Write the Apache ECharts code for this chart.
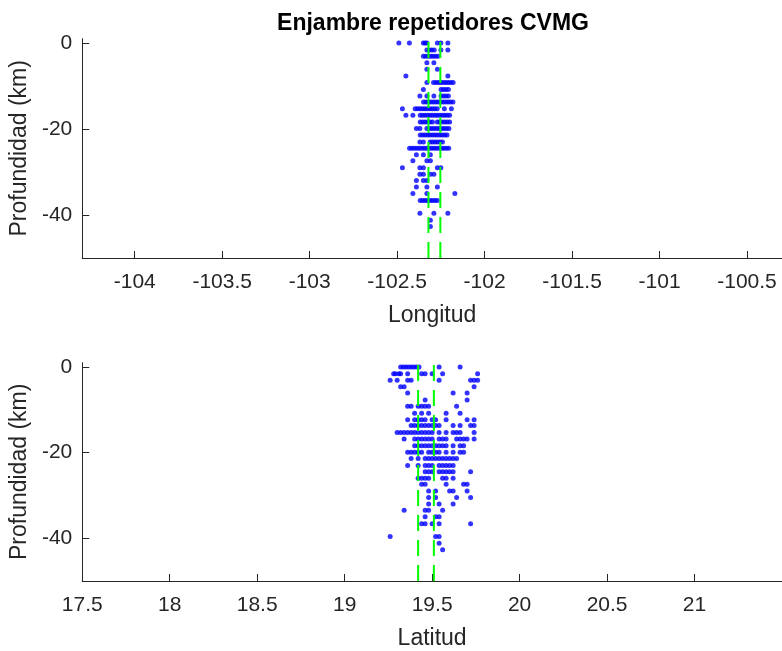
<!DOCTYPE html>
<html>
<head>
<meta charset="utf-8">
<title>Enjambre repetidores CVMG</title>
<script src="https://cdn.jsdelivr.net/npm/echarts@6/dist/echarts.min.js"></script>
<style>
  html, body { margin: 0; padding: 0; background: #fff; }
  #chart { width: 782px; height: 651px; }
</style>
</head>
<body>
<div id="chart"></div>
<script>
// Profundidad (km) de cada fila de eventos
const profundidad = [0, -1.6, -3.1, -4.6, -6.1, -7.7, -9.2, -10.8, -12.3, -13.7,
  -15.3, -16.8, -18.4, -19.9, -21.4, -23.0, -24.5, -26.0, -27.4, -29.0,
  -30.5, -32.0, -33.5, -35.0, -36.6, -39.6, -41.2, -42.7];

// Longitud de los eventos en cada fila de profundidad
const longitudPorFila = [
  [-102.49, -102.43, -102.35, -102.34, -102.33, -102.27, -102.25, -102.21],
  [-102.33, -102.316, -102.302, -102.288, -102.25, -102.21],
  [-102.35, -102.336, -102.322, -102.308, -102.294, -102.28, -102.266],
  [-102.33, -102.29],
  [-102.33, -102.27],
  [-102.45, -102.21],
  [-102.33, -102.292, -102.278, -102.264, -102.25, -102.236, -102.222, -102.208, -102.194, -102.18],
  [-102.35, -102.249, -102.235, -102.221, -102.207],
  [-102.37, -102.33, -102.29, -102.249, -102.235, -102.221, -102.207],
  [-102.349, -102.335, -102.321, -102.307, -102.293, -102.279, -102.265, -102.251, -102.237, -102.223, -102.209, -102.195, -102.181],
  [-102.47, -102.397, -102.383, -102.369, -102.355, -102.341, -102.327, -102.313, -102.299, -102.285, -102.271, -102.23, -102.19],
  [-102.45, -102.41, -102.368, -102.354, -102.34, -102.326, -102.312, -102.298, -102.284, -102.27, -102.256, -102.242, -102.228, -102.214, -102.2],
  [-102.368, -102.354, -102.34, -102.326, -102.312, -102.298, -102.27, -102.256, -102.242, -102.228, -102.214, -102.2],
  [-102.39, -102.37, -102.33, -102.316, -102.302, -102.288, -102.274, -102.26, -102.246, -102.232, -102.218, -102.204],
  [-102.368, -102.354, -102.34, -102.326, -102.312, -102.298, -102.284, -102.27, -102.256, -102.242, -102.228, -102.215],
  [-102.37, -102.35, -102.311, -102.297, -102.283, -102.269, -102.255, -102.241],
  [-102.429, -102.415, -102.401, -102.387, -102.373, -102.359, -102.345, -102.331, -102.317, -102.303, -102.289, -102.275, -102.261, -102.247, -102.233, -102.219, -102.205],
  [-102.39, -102.35, -102.31],
  [-102.41, -102.33, -102.31],
  [-102.47, -102.37, -102.35, -102.27, -102.25],
  [-102.37, -102.35, -102.31, -102.29],
  [-102.39, -102.35, -102.33],
  [-102.39, -102.33, -102.27],
  [-102.41, -102.33, -102.17],
  [-102.368, -102.354, -102.34, -102.326, -102.312, -102.298, -102.284, -102.27],
  [-102.37, -102.29, -102.21],
  [-102.31],
  [-102.31]
];

// Latitud de los eventos en cada fila de profundidad
const latitudPorFila = [
  [19.32, 19.335, 19.35, 19.365, 19.38, 19.395, 19.41, 19.425, 19.54, 19.66],
  [19.28, 19.29, 19.31, 19.32, 19.36, 19.44, 19.46, 19.50, 19.56, 19.76],
  [19.26, 19.30, 19.36, 19.38, 19.54, 19.72, 19.74, 19.76],
  [19.32, 19.34, 19.74],
  [19.36, 19.62, 19.70],
  [19.46, 19.70],
  [19.36, 19.38, 19.42, 19.44, 19.46, 19.48, 19.64],
  [19.40, 19.44, 19.48, 19.58, 19.66],
  [19.36, 19.40, 19.42, 19.44, 19.46, 19.50, 19.52, 19.58, 19.70, 19.74],
  [19.38, 19.40, 19.42, 19.44, 19.46, 19.48, 19.50, 19.52, 19.54, 19.62, 19.66, 19.72, 19.74],
  [19.30, 19.32, 19.34, 19.36, 19.38, 19.40, 19.42, 19.44, 19.46, 19.48, 19.50, 19.54, 19.58, 19.62, 19.64, 19.66, 19.74],
  [19.34, 19.40, 19.42, 19.44, 19.46, 19.48, 19.50, 19.54, 19.56, 19.58, 19.64, 19.66, 19.68, 19.70, 19.74],
  [19.40, 19.42, 19.44, 19.46, 19.48, 19.50, 19.52, 19.54, 19.56, 19.58, 19.62, 19.66, 19.68],
  [19.36, 19.38, 19.40, 19.42, 19.44, 19.48, 19.50, 19.52, 19.54, 19.58, 19.62, 19.66, 19.68],
  [19.38, 19.42, 19.46, 19.48, 19.50, 19.52, 19.54, 19.56, 19.58, 19.60, 19.62, 19.64],
  [19.36, 19.42, 19.46, 19.48, 19.50, 19.54, 19.56, 19.58, 19.60, 19.62],
  [19.46, 19.48, 19.50, 19.54, 19.56, 19.58, 19.60, 19.62, 19.72],
  [19.42, 19.44, 19.46, 19.48, 19.56, 19.58, 19.62],
  [19.44, 19.46, 19.58, 19.68, 19.70],
  [19.48, 19.52, 19.60, 19.62, 19.70],
  [19.48, 19.52, 19.64, 19.72],
  [19.48, 19.54, 19.62],
  [19.34, 19.46, 19.48, 19.56],
  [19.46, 19.52, 19.54],
  [19.44, 19.46, 19.50, 19.54, 19.72],
  [19.26, 19.52, 19.54],
  [19.54],
  [19.56]
];

// Líneas verticales discontinuas que acotan el enjambre
const longitudLimites = [-102.321, -102.253];
const latitudLimites = [19.42, 19.51];

// Rangos de los ejes y marcas
const rangoLongitud = [-104.3, -100.3];
const rangoLatitud = [17.5, 21.5];
const rangoProfundidad = [-50, 1];
const ticksLongitud = [-104, -103.5, -103, -102.5, -102, -101.5, -101, -100.5];
const ticksLatitud = [17.5, 18, 18.5, 19, 19.5, 20, 20.5, 21];
const ticksProfundidad = [-40, -20, 0];

const FONT = '"Liberation Sans", Arial, Helvetica, sans-serif';
const AXIS_COLOR = '#262626';

function puntos(filas) {
  const out = [];
  profundidad.forEach((d, i) => filas[i].forEach(v => out.push([v, d])));
  return out;
}

function ejeX(grid, rango, ticks, nombre) {
  return {
    type: 'value', gridIndex: grid, min: rango[0], max: rango[1],
    name: nombre, nameLocation: 'middle', nameGap: 46,
    nameTextStyle: { fontFamily: FONT, fontSize: 23, color: AXIS_COLOR },
    axisLine: { show: true, onZero: false, lineStyle: { color: AXIS_COLOR, width: 1 } },
    axisTick: { show: true, inside: true, length: 7, customValues: ticks,
      lineStyle: { color: AXIS_COLOR, width: 1 } },
    axisLabel: { customValues: ticks, margin: 14, fontFamily: FONT, fontSize: 21,
      color: AXIS_COLOR, formatter: v => String(v) },
    splitLine: { show: false }
  };
}

function ejeY(grid) {
  return {
    type: 'value', gridIndex: grid, min: rangoProfundidad[0], max: rangoProfundidad[1],
    name: 'Profundidad (km)', nameLocation: 'middle', nameGap: 46, nameRotate: 90,
    nameTextStyle: { fontFamily: FONT, fontSize: 23, color: AXIS_COLOR },
    axisLine: { show: true, onZero: false, lineStyle: { color: AXIS_COLOR, width: 1 } },
    axisTick: { show: true, inside: true, length: 7, customValues: ticksProfundidad,
      lineStyle: { color: AXIS_COLOR, width: 1 } },
    axisLabel: { customValues: ticksProfundidad, margin: 10, fontFamily: FONT, fontSize: 21,
      color: AXIS_COLOR, formatter: v => String(v) },
    splitLine: { show: false }
  };
}

function dispersion(grid, filas) {
  return {
    type: 'scatter', xAxisIndex: grid, yAxisIndex: grid,
    data: puntos(filas), symbol: 'circle', symbolSize: 5,
    itemStyle: { color: '#0000ff' }, silent: true, z: 2
  };
}

function limite(grid, x) {
  return {
    type: 'line', xAxisIndex: grid, yAxisIndex: grid,
    data: [[x, rangoProfundidad[0]], [x, rangoProfundidad[1]]],
    showSymbol: false, symbol: 'none', silent: true, z: 3,
    lineStyle: { color: '#00ff00', width: 2, type: [16, 9] }
  };
}

const chart = echarts.init(document.getElementById('chart'), null, { renderer: 'canvas' });
chart.setOption({
  animation: false,
  backgroundColor: '#ffffff',
  title: {
    text: 'Enjambre repetidores CVMG',
    left: 428, top: 7, textAlign: 'center',
    textStyle: { fontFamily: FONT, fontSize: 23, fontWeight: 'bold', color: '#000' }
  },
  grid: [
    { left: 81, top: 38.7, width: 702, height: 219.3 },
    { left: 81, top: 362.7, width: 702, height: 218.3 }
  ],
  xAxis: [
    ejeX(0, rangoLongitud, ticksLongitud, 'Longitud'),
    ejeX(1, rangoLatitud, ticksLatitud, 'Latitud')
  ],
  yAxis: [ejeY(0), ejeY(1)],
  series: [
    dispersion(0, longitudPorFila),
    dispersion(1, latitudPorFila),
    ...longitudLimites.map(x => limite(0, x)),
    ...latitudLimites.map(x => limite(1, x))
  ]
});
</script>
</body>
</html>
